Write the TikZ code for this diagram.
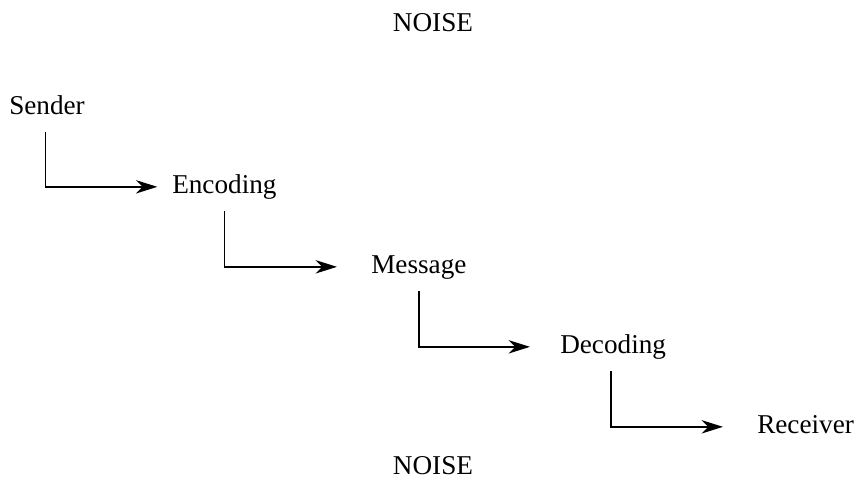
\documentclass[tikz,border=0pt]{standalone}
\usepackage{fontspec}
\setmainfont{Liberation Serif}
\usepackage{tikz}
\usetikzlibrary{arrows.meta}

\tikzset{
  stage/.style={anchor=base west, inner xsep=0pt, inner ysep=9.75pt,
                text height=13pt, text depth=3.75pt,
                font=\fontsize{20.4}{24}\selectfont},
  noise/.style={anchor=base, inner sep=0pt, font=\fontsize{20.4}{24}\selectfont},
  flow/.style={line width=1pt, -{Stealth[length=16pt,width=10pt,inset=5pt]}}
}

\begin{document}
\begin{tikzpicture}
                \tikzset{x={(0.75pt, 0pt)}, y={(0pt, -0.75pt)}}
                \useasboundingbox (0, 0) rectangle (857, 479);
                \node[noise] (noisetop) at (433, 31) {NOISE};
                \node[stage] (sender)   at (  9, 114) {Sender};
                \node[stage] (encoding) at (172, 193) {Encoding};
                \node[stage] (message)  at (371, 273) {Message};
                \node[stage] (decoding) at (560, 353) {Decoding};
                \node[stage] (receiver) at (757, 433) {Receiver};
                \node[noise] (noisebot) at (433, 474) {NOISE};
                \draw[flow, shorten >=11pt]   ([xshift=-1pt]sender.south) |- (encoding.west);
                \draw[flow, shorten >=25.5pt] (encoding.south) |- (message.west);
                \draw[flow, shorten >=22.5pt] (message.south)  |- (decoding.west);
                \draw[flow, shorten >=25.5pt] ([xshift=-1.5pt]decoding.south) |- (receiver.west);
            \end{tikzpicture}
\end{document}
